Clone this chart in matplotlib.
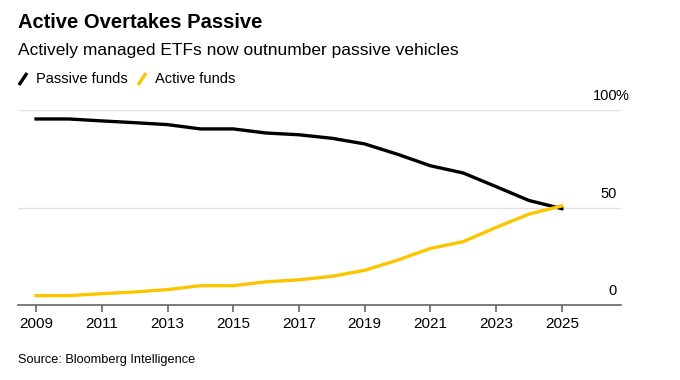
import matplotlib
matplotlib.use('Agg')
import matplotlib.pyplot as plt
import matplotlib.transforms as mtransforms
from matplotlib.lines import Line2D

plt.rcParams['font.family'] = ['Liberation Sans', 'DejaVu Sans']

# share of ETFs (%), by year
years = list(range(2009, 2026))
passive = [95.4, 95.4, 94.4, 93.5, 92.5, 90.3, 90.3, 88.2, 87.3, 85.5, 82.6, 77.3, 71.4, 67.7, 60.7, 53.6, 49.4]
active = [4.8, 4.8, 5.8, 6.7, 7.9, 9.9, 9.9, 11.9, 12.9, 14.7, 17.8, 23.0, 29.0, 32.5, 39.8, 46.6, 50.8]
xticks = [2009, 2011, 2013, 2015, 2017, 2019, 2021, 2023, 2025]
yticks = [0, 50, 100]

black = '#000000'
yellow = '#FCC500'

fig = plt.figure(figsize=(6.8, 3.8), dpi=100)
ax = fig.add_axes([18 / 680, 1 - 305 / 380, 603 / 680, 195 / 380])

ax.plot(years, passive, color=black, lw=2.4, solid_joinstyle='round', zorder=3)
ax.plot(years, active, color=yellow, lw=2.4, solid_joinstyle='round', zorder=3)

ax.set_xlim(2008.45, 2026.8)
ax.set_ylim(0, 100)

# grid lines
for v in yticks[1:]:
    ax.axhline(v, color='#e2e2e2', lw=1, zorder=1)

for s in ['top', 'right', 'left']:
    ax.spines[s].set_visible(False)
ax.spines['bottom'].set_color('#666666')
ax.spines['bottom'].set_linewidth(1.2)

ax.set_yticks([])
ax.set_xticks(xticks)
ax.set_xticklabels([str(x) for x in xticks])
ax.tick_params(axis='x', length=5, width=1.2, color='#666666', labelsize=11, pad=4)

# y labels sitting above gridlines on right
off = mtransforms.offset_copy(ax.transData, fig=fig, x=0, y=14, units='dots')
trans = mtransforms.blended_transform_factory(ax.transAxes, off)
for v in yticks:
    ax.text(599 / 603, v, str(v), transform=trans, ha='right', va='center', fontsize=10.5)
ax.text(598 / 603, 100, '%', transform=trans, ha='left', va='center', fontsize=10.5)

# title, subtitle
fig.text(18 / 680, 1 - 22 / 380, 'Active Overtakes Passive', fontsize=14.5, fontweight='bold', va='center')
fig.text(18 / 680, 1 - 51 / 380, 'Actively managed ETFs now outnumber passive vehicles', fontsize=12.5, va='center')

# legend with slanted stroke icons
for x0, c in [(19, black), (138, yellow)]:
    fig.add_artist(Line2D([x0 / 680, (x0 + 8) / 680], [1 - 85 / 380, 1 - 73 / 380],
                          color=c, lw=2.4, solid_capstyle='butt'))
fig.text(36 / 680, 1 - 79 / 380, 'Passive funds', fontsize=10.5, va='center')
fig.text(155 / 680, 1 - 79 / 380, 'Active funds', fontsize=10.5, va='center')

fig.text(18 / 680, 1 - 360 / 380, 'Source: Bloomberg Intelligence', fontsize=9.2, va='center')

fig.savefig('out.png', dpi=100)
